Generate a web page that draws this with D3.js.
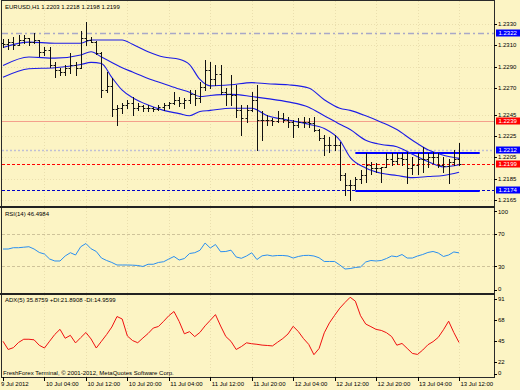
<!DOCTYPE html>
<html>
<head>
<meta charset="utf-8">
<script src="https://cdn.jsdelivr.net/npm/d3@7"></script>
<style>
  body { margin: 0; background: #fcf4c4; }
  svg { display: block; }
  text { font-family: "Liberation Sans", Arial, sans-serif; font-size: 6px; fill: #000; }
</style>
</head>
<body>
<div id="chart"></div>
<script>
// ---- data (EURUSD H1) ----
var timeLabels = ['9 Jul 2012', '10 Jul 04:00', '10 Jul 12:00', '10 Jul 20:00', '11 Jul 04:00', '11 Jul 12:00',
    '11 Jul 20:00', '12 Jul 04:00', '12 Jul 12:00', '12 Jul 20:00', '13 Jul 04:00', '13 Jul 12:00'];
var timeLabelBars = [0, 8, 16, 24, 32, 40, 48, 56, 64, 72, 80, 88];

var opens = [1.2312,1.2311,1.2313,1.2310,1.2315,1.2317,1.2313,1.2315,1.2304,1.2306,
    1.2292,1.2287,1.2285,1.2289,1.2292,1.2289,1.2317,1.2315,1.2313,1.2303,
    1.2268,1.2272,1.2250,1.2251,1.2254,1.2256,1.2251,1.2253,1.2251,1.2251,
    1.2250,1.2252,1.2254,1.2256,1.2259,1.2256,1.2259,1.2264,1.2261,1.2271,
    1.2287,1.2278,1.2283,1.2266,1.2264,1.2263,1.2249,1.2242,1.2249,1.2259,
    1.2240,1.2240,1.2240,1.2239,1.2242,1.2240,1.2238,1.2235,1.2238,1.2238,
    1.2237,1.2231,1.2223,1.2217,1.2217,1.2217,1.2188,1.2179,1.2179,1.2185,
    1.2188,1.2198,1.2195,1.2195,1.2196,1.2203,1.2202,1.2204,1.2203,1.2195,
    1.2198,1.2203,1.2203,1.2205,1.2205,1.2198,1.2197,1.2201,1.2203];
var highs = [1.2316,1.2316,1.2318,1.2320,1.2320,1.2317,1.2322,1.2315,1.2308,1.2308,
    1.2294,1.2289,1.2292,1.2303,1.2294,1.2323,1.2332,1.2318,1.2314,1.2304,
    1.2285,1.2279,1.2254,1.2256,1.2259,1.2262,1.2256,1.2254,1.2254,1.2252,
    1.2254,1.2256,1.2257,1.2266,1.2262,1.2261,1.2268,1.2268,1.2276,1.2296,
    1.2294,1.2292,1.2292,1.2270,1.2282,1.2273,1.2254,1.2254,1.2266,1.2273,
    1.2248,1.2245,1.2242,1.2248,1.2247,1.2243,1.2240,1.2242,1.2243,1.2242,
    1.2243,1.2232,1.2226,1.2224,1.2226,1.2219,1.2190,1.2184,1.2187,1.2193,
    1.2209,1.2201,1.2200,1.2196,1.2209,1.2209,1.2209,1.2209,1.2210,1.2205,
    1.2209,1.2215,1.2209,1.2210,1.2209,1.2205,1.2203,1.2212,1.2218];
var lows = [1.2308,1.2307,1.2307,1.2310,1.2312,1.2310,1.2312,1.2300,1.2301,1.2290,
    1.2280,1.2282,1.2282,1.2284,1.2282,1.2289,1.2310,1.2313,1.2302,1.2262,
    1.2266,1.2244,1.2235,1.2247,1.2251,1.2245,1.2249,1.2248,1.2248,1.2248,
    1.2249,1.2249,1.2251,1.2255,1.2253,1.2251,1.2256,1.2254,1.2257,1.2268,
    1.2270,1.2273,1.2264,1.2254,1.2254,1.2243,1.2226,1.2238,1.2248,1.2212,
    1.2221,1.2235,1.2235,1.2238,1.2238,1.2233,1.2224,1.2233,1.2233,1.2233,
    1.2230,1.2221,1.2207,1.2210,1.2212,1.2184,1.2170,1.2165,1.2175,1.2181,
    1.2182,1.2189,1.2191,1.2182,1.2196,1.2198,1.2199,1.2198,1.2181,1.2189,
    1.2189,1.2191,1.2196,1.2200,1.2196,1.2191,1.2181,1.2198,1.2198];
var closes = [1.2311,1.2313,1.2310,1.2315,1.2317,1.2313,1.2315,1.2304,1.2306,1.2292,
    1.2287,1.2285,1.2289,1.2292,1.2289,1.2317,1.2315,1.2313,1.2303,1.2268,
    1.2272,1.2250,1.2251,1.2254,1.2256,1.2251,1.2253,1.2251,1.2251,1.2250,
    1.2252,1.2254,1.2256,1.2259,1.2256,1.2259,1.2264,1.2261,1.2271,1.2287,
    1.2278,1.2283,1.2266,1.2264,1.2263,1.2249,1.2242,1.2249,1.2259,1.2240,
    1.2240,1.2240,1.2239,1.2242,1.2240,1.2238,1.2235,1.2238,1.2238,1.2237,
    1.2231,1.2223,1.2217,1.2217,1.2217,1.2188,1.2179,1.2179,1.2185,1.2188,
    1.2198,1.2195,1.2195,1.2196,1.2203,1.2202,1.2204,1.2203,1.2195,1.2198,
    1.2203,1.2203,1.2205,1.2205,1.2198,1.2197,1.2201,1.2203,1.2199];

// channel bands, read at these bars
var bandBars = [0,5,10,15,17,19,21,23,25,28,31,34,36,38,40,44,48,51,55,59,62,65,67,70,73,76,79,82,85,88];
var upperBand = [1.2308,1.2313,1.2312,1.2312,1.2315,1.2315,1.2315,1.2315,1.2311,1.2304,1.2299,1.2297,1.2292,1.2278,1.2272,
    1.2273,1.2275,1.2274,1.2273,1.2270,1.2259,1.2251,1.2249,1.2244,1.2238,1.2231,1.2221,1.2212,1.2207,1.2204];
var middleBand = [1.2291,1.2299,1.2298,1.2301,1.2304,1.2299,1.2294,1.2289,1.2285,1.2279,1.2274,1.2269,1.2266,1.2262,1.2263,
    1.2264,1.2262,1.2260,1.2257,1.2252,1.2244,1.2236,1.2231,1.2221,1.2217,1.2215,1.2208,1.2201,1.2196,1.2198];
var lowerBand = [1.2280,1.2288,1.2289,1.2292,1.2294,1.2293,1.2280,1.2268,1.2261,1.2254,1.2249,1.2246,1.2244,1.2248,1.2249,
    1.2251,1.2251,1.2244,1.2240,1.2236,1.2232,1.2221,1.2205,1.2195,1.2190,1.2188,1.2186,1.2187,1.2188,1.2191];

var rsiValues = [51.2,51.2,52.8,52.8,53.4,54.0,51.2,47.0,45.1,39.0,
    36.6,36.6,42.7,46.7,43.9,54.0,57.9,51.5,48.2,40.2,
    37.2,34.8,31.7,31.7,31.7,31.5,31.1,29.9,32.6,32.6,
    34.8,35.7,39.0,42.1,37.8,39.6,45.7,46.7,49.6,58.5,
    52.4,56.7,47.9,48.2,49.8,41.5,39.9,42.7,46.6,38.4,
    42.9,43.9,42.7,43.3,43.3,42.7,40.2,42.1,43.3,43.5,
    42.7,40.5,36.0,36.0,36.0,31.7,26.8,27.4,28.7,29.3,
    35.4,37.2,36.6,37.2,39.6,42.7,41.8,44.5,40.2,40.2,
    42.7,44.5,47.0,48.2,46.3,42.1,43.9,47.6,46.5];

var adxValues = [44.7,35.7,37.7,43.4,46.9,46.9,46.3,40.3,37.3,44.8,
    52.2,57.8,48.0,51.2,42.9,48.7,54.3,47.2,37.3,44.7,
    52.1,60.3,71.8,69.1,50.5,45.5,43.1,48.3,53.2,59.2,
    60.9,66.6,72.7,77.3,66.4,52.9,55.2,49.8,54.4,61.6,
    67.7,73.9,61.4,49.9,44.6,35.7,38.9,43.0,42.0,41.4,
    40.5,40.1,39.6,43.7,47.7,52.7,61.1,55.3,47.6,41.3,
    30.0,36.8,54.0,64.9,73.1,81.0,87.2,92.9,88.6,72.7,
    63.6,60.7,57.7,56.6,54.1,49.9,40.4,42.3,36.9,31.4,
    30.3,35.1,40.9,44.3,49.0,57.3,66.7,54.3,43.4];

var priceTicks = [1.2330, 1.2310, 1.2290, 1.2270, 1.2245, 1.2225, 1.2205, 1.2185, 1.2165];
var rsiTicks = [100, 70, 30, 0];
var rsiLevels = [70, 30];
var adxTicks = [91, 68, 45, 22, 0];

// horizontal levels and the channel drawn on the chart
var levelPrices = [1.2322, 1.2239, 1.2212, 1.2199, 1.2174];
var channelPrices = [1.2209, 1.2173];
var channelBars = [68, 92];

var headerText = 'EURUSD,H1  1.2203 1.2218 1.2198 1.2199';
var rsiText = 'RSI(14) 46.4984';
var adxText = 'ADX(5) 35.8759 +DI:21.8908 -DI:14.9599';
var footerText = 'FreshForex Terminal, \u00a9 2001-2012, MetaQuotes Software Corp.';

// ---- layout ----
var W = 520, H = 390;
var left = 2, right = 494;
var mainTop = 1, mainBottom = 207;
var rsiTop = 208, rsiBottom = 293;
var adxTop = 295, adxBottom = 377;

var levelStyle = [
    { color: '#a8a8c8', dash: '6,3,2,3', width: 1.5, box: '#0000ff' },
    { color: '#f4a08c', dash: null, width: 1, box: '#ff0000' },
    { color: '#c0c0d4', dash: '2,2', width: 1.5, box: '#0000ff' },
    { color: '#ff0000', dash: '3,2', width: 1, box: '#ff0000' },
    { color: '#0000c8', dash: '3,2', width: 1, box: '#0000ff' }
];

var svg = d3.select('#chart').append('svg')
    .attr('width', W)
    .attr('height', H);

svg.append('rect')
    .attr('width', W)
    .attr('height', H)
    .attr('fill', '#fcf4c4');

// Scales
var x = d3.scaleLinear().domain([0, 88]).range([3, 459]);
var y = d3.scaleLinear().domain([1.2165, 1.2330]).range([200, 24]);
var yRsi = d3.scaleLinear().domain([0, 100]).range([291, 209]);
var yAdx = d3.scaleLinear().domain([22, 91]).range([362, 299]);

var crisp = (v) => Math.round(v) + 0.5;

// clip paths
var defs = svg.append('defs');
[['clipMain', mainTop, mainBottom], ['clipRsi', rsiTop, rsiBottom], ['clipAdx', adxTop, adxBottom]].forEach((c) => {
    defs.append('clipPath').attr('id', c[0])
        .append('rect')
        .attr('x', left).attr('y', c[1])
        .attr('width', right - left).attr('height', c[2] - c[1]);
});

// Grid
var gridColor = '#eadfae';
function vGrid(top, bottom) {
    svg.append('g').selectAll('line')
        .data(timeLabelBars.slice(1))
        .enter().append('line')
        .attr('x1', (d) => crisp(x(d))).attr('x2', (d) => crisp(x(d)))
        .attr('y1', top).attr('y2', bottom)
        .attr('stroke', gridColor)
        .attr('stroke-dasharray', '1,2');
}
vGrid(mainTop, mainBottom);
vGrid(rsiTop, rsiBottom);
vGrid(adxTop, adxBottom);

svg.append('g').selectAll('line')
    .data(priceTicks)
    .enter().append('line')
    .attr('x1', left).attr('x2', right)
    .attr('y1', (d) => crisp(y(d))).attr('y2', (d) => crisp(y(d)))
    .attr('stroke', gridColor)
    .attr('stroke-dasharray', '1,2');

// ---- main panel ----
var main = svg.append('g').attr('clip-path', 'url(#clipMain)');

// level lines
main.append('g').selectAll('line')
    .data(levelPrices)
    .enter().append('line')
    .attr('x1', left).attr('x2', right)
    .attr('y1', (d) => crisp(y(d))).attr('y2', (d) => crisp(y(d)))
    .attr('stroke', (d, i) => levelStyle[i].color)
    .attr('stroke-width', (d, i) => levelStyle[i].width)
    .attr('stroke-dasharray', (d, i) => levelStyle[i].dash);

// channel
main.append('g').selectAll('line')
    .data(channelPrices)
    .enter().append('line')
    .attr('x1', x(channelBars[0])).attr('x2', x(channelBars[1]))
    .attr('y1', (d) => Math.round(y(d))).attr('y2', (d) => Math.round(y(d)))
    .attr('stroke', '#0000ff')
    .attr('stroke-width', 2);

// bands
var bandLine = (vals) => d3.line()
    .x((d, i) => x(bandBars[i]))
    .y((d) => y(d))
    .curve(d3.curveMonotoneX)(vals);

[upperBand, middleBand, lowerBand].forEach((b) => {
    main.append('path')
        .attr('d', bandLine(b))
        .attr('fill', 'none')
        .attr('stroke', '#1c1ce6')
        .attr('stroke-width', 1.1);
});

// OHLC bars
var bars = main.append('g')
    .attr('stroke', '#111')
    .attr('stroke-width', 1);

opens.forEach((o, i) => {
    var cx = crisp(x(i));
    bars.append('line')
        .attr('x1', cx).attr('x2', cx)
        .attr('y1', Math.round(y(highs[i]))).attr('y2', Math.round(y(lows[i])) + 1);
    bars.append('line')
        .attr('x1', cx - 2).attr('x2', cx)
        .attr('y1', crisp(y(o))).attr('y2', crisp(y(o)));
    bars.append('line')
        .attr('x1', cx).attr('x2', cx + 2)
        .attr('y1', crisp(y(closes[i]))).attr('y2', crisp(y(closes[i])));
});

// ---- RSI panel ----
var rsiG = svg.append('g').attr('clip-path', 'url(#clipRsi)');

rsiG.selectAll('line.level')
    .data(rsiLevels)
    .enter().append('line')
    .attr('class', 'level')
    .attr('x1', left).attr('x2', right)
    .attr('y1', (d) => crisp(yRsi(d))).attr('y2', (d) => crisp(yRsi(d)))
    .attr('stroke', '#cfc39a')
    .attr('stroke-dasharray', '3,2');

rsiG.append('path')
    .attr('d', d3.line().x((d, i) => x(i)).y((d) => yRsi(d))(rsiValues))
    .attr('fill', 'none')
    .attr('stroke', '#2a8ff0')
    .attr('stroke-width', 1);

// ---- ADX panel ----
var adxG = svg.append('g').attr('clip-path', 'url(#clipAdx)');

adxG.append('path')
    .attr('d', d3.line().x((d, i) => x(i)).y((d) => yAdx(d))(adxValues))
    .attr('fill', 'none')
    .attr('stroke', '#f01010')
    .attr('stroke-width', 1);

// ---- frames ----
function frame(top, bottom) {
    svg.append('rect')
        .attr('x', left - 0.5).attr('y', top - 0.5)
        .attr('width', right - left + 1).attr('height', bottom - top + 1)
        .attr('fill', 'none')
        .attr('stroke', '#2a2a2a')
        .attr('stroke-width', 1);
}
frame(mainTop, mainBottom);
frame(rsiTop, rsiBottom);
frame(adxTop, adxBottom);

// heavier separators between the panels
[mainBottom, adxTop - 1].forEach((sy) => {
    svg.append('line')
        .attr('x1', 0).attr('x2', right + 1)
        .attr('y1', sy).attr('y2', sy)
        .attr('stroke', '#222')
        .attr('stroke-width', 2);
});

// ---- right axes ----
function rightAxis(ticks, scale, fmt, top, bottom) {
    var g = svg.append('g');
    g.selectAll('line')
        .data(ticks)
        .enter().append('line')
        .attr('x1', right).attr('x2', right + 3)
        .attr('y1', (d) => crisp(Math.max(top + 3, Math.min(bottom - 3, scale(d)))))
        .attr('y2', (d) => crisp(Math.max(top + 3, Math.min(bottom - 3, scale(d)))))
        .attr('stroke', '#000');
    g.selectAll('text')
        .data(ticks)
        .enter().append('text')
        .attr('x', right + 4)
        .attr('y', (d) => Math.max(top + 4, Math.min(bottom - 4, scale(d))))
        .attr('dy', '0.35em')
        .text(fmt);
}
rightAxis(priceTicks, y, d3.format('.4f'), mainTop, mainBottom);
rightAxis(rsiTicks, yRsi, (d) => d, rsiTop, rsiBottom);
rightAxis(adxTicks, yAdx, (d) => d, adxTop, adxBottom);

// level price boxes
var boxes = svg.append('g').selectAll('g')
    .data(levelPrices)
    .enter().append('g')
    .attr('transform', (d) => `translate(${right + 2}, ${Math.round(y(d))})`);
boxes.append('rect')
    .attr('x', 0).attr('y', -3.5)
    .attr('width', W - right - 2).attr('height', 7)
    .attr('fill', (d, i) => levelStyle[i].box);
boxes.append('text')
    .attr('x', 2.5).attr('dy', '0.35em')
    .style('fill', '#fff')
    .text((d) => d.toFixed(4));

// ---- time axis ----
var tAxis = svg.append('g');
tAxis.selectAll('line')
    .data(timeLabelBars)
    .enter().append('line')
    .attr('x1', (d) => crisp(x(d))).attr('x2', (d) => crisp(x(d)))
    .attr('y1', adxBottom).attr('y2', adxBottom + 4)
    .attr('stroke', '#000');
tAxis.selectAll('text')
    .data(timeLabels)
    .enter().append('text')
    .attr('x', (d, i) => i === 0 ? 1 : x(timeLabelBars[i]) + 1.5)
    .attr('y', 386)
    .text((d) => d);

// ---- captions ----
svg.append('text').attr('x', 5).attr('y', 9).text(headerText);
svg.append('text').attr('x', 5).attr('y', 216).text(rsiText);
svg.append('text').attr('x', 5).attr('y', 302).text(adxText);
svg.append('text').attr('x', 3).attr('y', 375).text(footerText);
</script>
</body>
</html>
